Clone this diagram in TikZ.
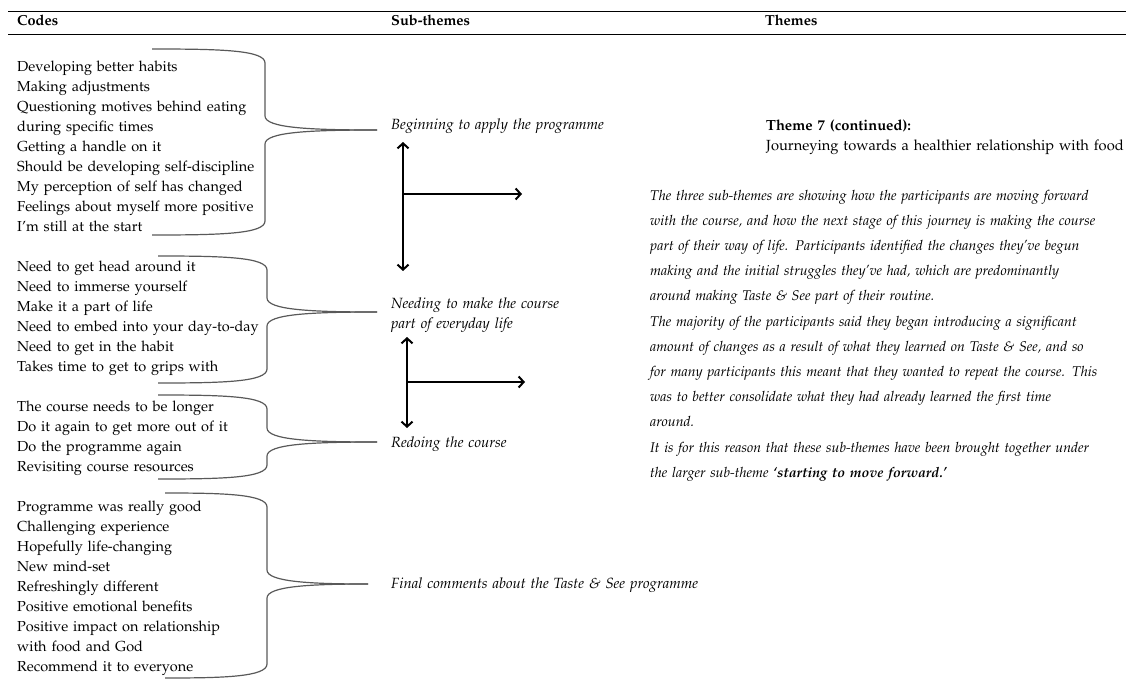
\documentclass[tikz,border=0pt]{standalone}
\usepackage[T1]{fontenc}
\usepackage{mathpazo}
\usetikzlibrary{arrows.meta}

% one justified line of the description
\newcommand{\jl}[1]{\makebox[446pt][s]{#1}}
% curly brace: left x, spine x, top y, tip y, bottom y, tip coordinate
\newcommand{\codebrace}[6]{%
  \draw[brace] (#1,#3) .. controls (#2-45,#3) and (#2,#3+1) .. (#2,#3+14)
    -- (#2,#4-14) .. controls (#2,#4-2) and (#2+45,#4) .. (#6);
  \draw[brace] (#1,#5) .. controls (#2-45,#5) and (#2,#5-1) .. (#2,#5-14)
    -- (#2,#4+14) .. controls (#2,#4+2) and (#2+45,#4) .. (#6);}

\begin{document}
\begin{tikzpicture}[x=1pt, y=-1pt,
  every node/.style={inner sep=0pt, font=\fontsize{14.5}{20}\selectfont},
  head/.style={anchor=base west, font=\fontsize{14.5}{20}\selectfont\bfseries},
  code/.style={anchor=base west, text width=360pt, align=left},
  sub/.style={anchor=base west, text width=330pt, align=left, font=\fontsize{14.8}{20.5}\selectfont\itshape},
  rule/.style={line width=1pt},
  brace/.style={draw=black!65, line width=1.2pt},
  link/.style={line width=2pt}]
  \useasboundingbox (0,0) rectangle (1126,693);

  % table header
  \coordinate (hl) at (8,12);
  \coordinate (hr) at (1126,12);
  \draw[rule] (hl) -- (hr);
  \draw[rule] (8,35) -- (1126,35);
  \node[head] (hcodes) at (17,26) {Codes};
  \node[head] (hsub) at (391,26) {Sub-themes};
  \node[head] (hthemes) at (765,26) {Themes};

  % codes
  \node[code] (c1) at (17,71.5) {Developing better habits\\ Making adjustments\\
    Questioning motives behind eating\\ during specific times\\
    Getting a handle on it\\ Should be developing self-discipline\\
    My perception of self has changed\\ Feelings about myself more positive\\
    I'm still at the start};
  \node[code] (c2) at (17,271.5) {Need to get head around it\\ Need to immerse yourself\\
    Make it a part of life\\ Need to embed into your day-to-day\\
    Need to get in the habit\\ Takes time to get to grips with};
  \node[code] (c3) at (17,411.5) {The course needs to be longer\\
    Do it again to get more out of it\\ Do the programme again\\
    Revisiting course resources};
  \node[code] (c4) at (17,511.5) {Programme was really good\\ Challenging experience\\
    Hopefully life-changing\\ New mind-set\\ Refreshingly different\\
    Positive emotional benefits\\ Positive impact on relationship\\
    with food and God\\ Recommend it to everyone};

  % sub-themes
  \node[sub] (s1) at (391,129) {Beginning to apply the programme};
  \node[sub] (s2) at (391,308) {Needing to make the course\\ part of everyday life};
  \node[sub] (s3) at (391,447) {Redoing the course};
  \node[sub] (s4) at (391,588) {Final comments about the Taste \& See programme};

  % braces
  \coordinate (t1) at (377,130);
  \coordinate (t2) at (377,312);
  \coordinate (t3) at (377,442);
  \coordinate (t4) at (368,584);
  \codebrace{152}{265}{49}{130}{235}{t1}
  \codebrace{158}{267}{256}{312}{383}{t2}
  \codebrace{158}{267}{395}{442}{479}{t3}
  \codebrace{165}{267}{493}{584}{678}{t4}

  % arrows
  \coordinate (a1) at (403,142);
  \coordinate (b1) at (403,271);
  \coordinate (m1) at (403,194);
  \coordinate (e1) at (522,194);
  \coordinate (a2) at (407,337);
  \coordinate (b2) at (407,428);
  \coordinate (m2) at (407,382);
  \coordinate (e2) at (525,382);
  \draw[link, {Straight Barb[length=5pt,width=11pt]}-{Straight Barb[length=5pt,width=11pt]}] (a1) -- (b1);
  \draw[link, -{Straight Barb[length=5pt,width=11pt]}] (m1) -- (e1);
  \draw[link, {Straight Barb[length=5pt,width=11pt]}-{Straight Barb[length=5pt,width=11pt]}] (a2) -- (b2);
  \draw[link, -{Straight Barb[length=5pt,width=11pt]}] (m2) -- (e2);

  % theme
  \node[anchor=base west, text width=400pt, align=left, font=\fontsize{14.7}{20}\selectfont] (theme) at (766,130)
    {\textbf{Theme 7 (continued):}\\ Journeying towards a healthier relationship with food};
  \node[anchor=base west, text width=446pt, align=left,
    font=\fontsize{14.1}{25.2}\selectfont\itshape] (desc) at (650,200)
    {\jl{The three sub-themes are showing how the participants are moving forward}\\
     \jl{with the course, and how the next stage of this journey is making the course}\\
     \jl{part of their way of life. Participants identified the changes they've begun}\\
     \jl{making and the initial struggles they've had, which are predominantly}\\
     around making Taste \& See part of their routine.\\
     \jl{The majority of the participants said they began introducing a significant}\\
     \jl{amount of changes as a result of what they learned on Taste \& See, and so}\\
     \jl{for many participants this meant that they wanted to repeat the course. This}\\
     \jl{was to better consolidate what they had already learned the first time}\\
     around.\\
     \jl{It is for this reason that these sub-themes have been brought together under}\\
     the larger sub-theme \textbf{`starting to move forward.'}};
\end{tikzpicture}
\end{document}
